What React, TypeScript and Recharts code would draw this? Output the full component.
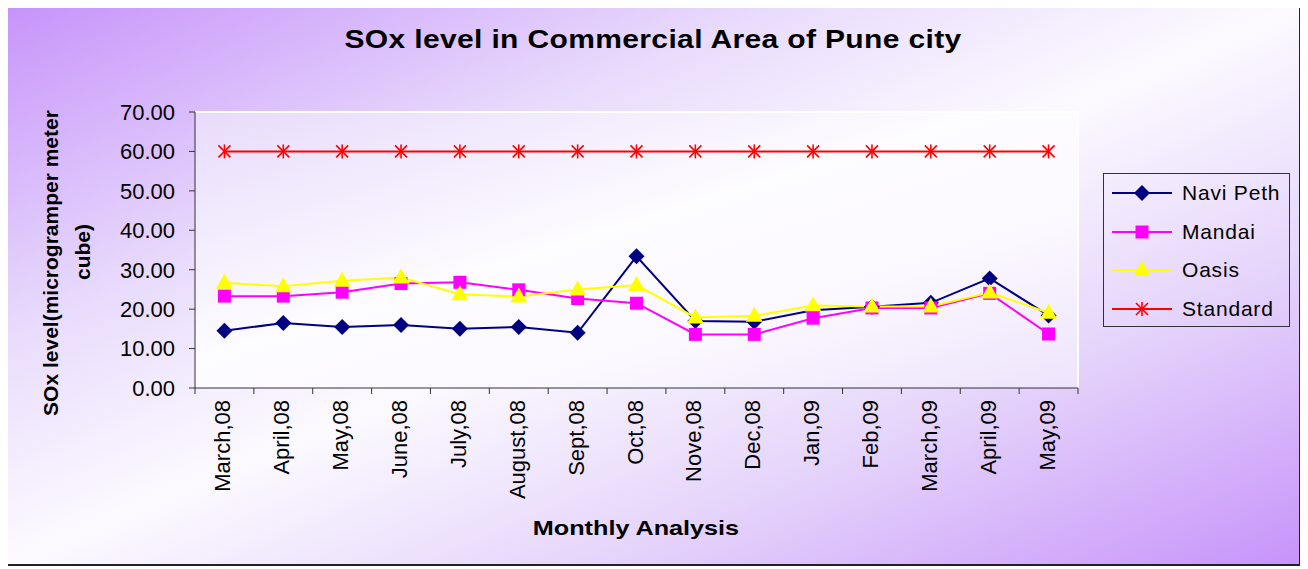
import { LineChart, Line, XAxis, YAxis, CartesianGrid, Legend } from 'recharts'

const months = ['March,08', 'April,08', 'May,08', 'June,08', 'July,08', 'August,08', 'Sept,08', 'Oct,08', 'Nove,08', 'Dec,08', 'Jan,09', 'Feb,09', 'March,09', 'April,09', 'May,09']
const naviPeth = [14.5, 16.5, 15.5, 16.0, 15.0, 15.5, 14.0, 33.4, 17.0, 16.8, 19.7, 20.6, 21.6, 27.8, 18.4]
const mandai = [23.3, 23.3, 24.3, 26.5, 26.8, 24.9, 22.7, 21.5, 13.6, 13.6, 17.7, 20.3, 20.3, 24.0, 13.7]
const oasis = [26.7, 25.8, 27.2, 28.0, 23.8, 23.2, 25.0, 26.1, 17.9, 18.3, 20.9, 20.7, 20.7, 24.2, 19.1]
const standard = [60, 60, 60, 60, 60, 60, 60, 60, 60, 60, 60, 60, 60, 60, 60]
const yTicks = [0, 10, 20, 30, 40, 50, 60, 70]

const data = months.map((month, i) => ({
  month,
  naviPeth: naviPeth[i],
  mandai: mandai[i],
  oasis: oasis[i],
  standard: standard[i],
}))

const series = [
  { key: 'naviPeth', name: 'Navi Peth', color: '#000080', kind: 'diamond' },
  { key: 'mandai', name: 'Mandai', color: '#FF00FF', kind: 'square' },
  { key: 'oasis', name: 'Oasis', color: '#FFFF00', kind: 'triangle' },
  { key: 'standard', name: 'Standard', color: '#FF0000', kind: 'star' },
]

const FONT = '"Liberation Sans", Arial, sans-serif'
const PLOT_W = 883
const HALF_BAND = PLOT_W / months.length / 2

function Marker({ kind, color, cx, cy }: { kind: string; color: string; cx: number; cy: number }) {
  if (kind === 'diamond')
    return <polygon points={`${cx},${cy - 8} ${cx + 8},${cy} ${cx},${cy + 8} ${cx - 8},${cy}`} fill={color} />
  if (kind === 'square') return <rect x={cx - 6.5} y={cy - 6.5} width={13} height={13} fill={color} />
  if (kind === 'triangle')
    return <polygon points={`${cx},${cy - 9} ${cx + 8.5},${cy + 6} ${cx - 8.5},${cy + 6}`} fill={color} />
  return (
    <g stroke={color} strokeWidth={1.6}>
      <line x1={cx} y1={cy - 7} x2={cx} y2={cy + 7} />
      <line x1={cx - 6} y1={cy - 6} x2={cx + 6} y2={cy + 6} />
      <line x1={cx - 6} y1={cy + 6} x2={cx + 6} y2={cy - 6} />
    </g>
  )
}

function MonthTick(props: any) {
  const { x, y, payload } = props
  const last = payload.index === months.length - 1
  return (
    <g>
      <line x1={x - HALF_BAND} y1={y} x2={x - HALF_BAND} y2={y + 6} stroke="#333" />
      {last && <line x1={x + HALF_BAND} y1={y} x2={x + HALF_BAND} y2={y + 6} stroke="#333" />}
      <text
        transform={`translate(${x + 6},${y + 12}) rotate(-90)`}
        textAnchor="end"
        fontSize={22}
        fontFamily={FONT}
        fill="#000"
      >
        {payload.value}
      </text>
    </g>
  )
}

function LegendBox() {
  return (
    <div style={{ position: 'relative', width: 187, height: 154, border: '1px solid #333', boxSizing: 'border-box', fontFamily: FONT }}>
      {series.map((s, i) => (
        <div
          key={s.key}
          style={{ position: 'absolute', left: 0, top: 19 + i * 38.5 - 14, height: 28, display: 'flex', alignItems: 'center' }}
        >
          <svg width={78} height={28}>
            <line x1={8} y1={14} x2={68} y2={14} stroke={s.color} strokeWidth={2} />
            <Marker kind={s.kind} color={s.color} cx={38} cy={14} />
          </svg>
          <span style={{ fontSize: 21, letterSpacing: 0.8, color: '#000', whiteSpace: 'nowrap' }}>{s.name}</span>
        </div>
      ))}
    </div>
  )
}

function RotLabel({ text, cx, cy }: { text: string; cx: number; cy: number }) {
  const w = 400
  const h = 32
  return (
    <div
      style={{
        position: 'absolute',
        left: cx - w / 2,
        top: cy - h / 2,
        width: w,
        height: h,
        lineHeight: `${h}px`,
        textAlign: 'center',
        transform: 'rotate(-90deg)',
        fontFamily: FONT,
        fontWeight: 'bold',
        fontSize: 21,
        color: '#000',
        whiteSpace: 'nowrap',
      }}
    >
      {text}
    </div>
  )
}

export default function App() {
  return (
    <div
      style={{
        position: 'relative',
        width: 1296,
        height: 561,
        margin: '-3px 0 0 -3px',
        border: '2px solid #222',
        boxSizing: 'border-box',
        background: 'linear-gradient(to bottom right, #c794fa 0%, #e9dcfc 30%, #fcfaff 50%, #e6d6fb 72%, #c794fa 100%)',
        overflow: 'hidden',
      }}
    >
      <div
        style={{
          position: 'absolute',
          top: 17,
          left: 0,
          width: '100%',
          textAlign: 'center',
          fontFamily: FONT,
          fontWeight: 'bold',
          fontSize: 25,
          lineHeight: '30px',
          color: '#000',
          transform: 'scaleX(1.2)',
          letterSpacing: 0.3,
        }}
      >
        SOx level in Commercial Area of Pune city
      </div>
      <RotLabel text="SOx level(microgramper meter" cx={44} cy={256} />
      <RotLabel text="cube)" cx={76} cy={245} />
      <div
        style={{
          position: 'absolute',
          top: 508,
          left: 429,
          width: 400,
          textAlign: 'center',
          fontFamily: FONT,
          fontWeight: 'bold',
          fontSize: 21,
          lineHeight: '26px',
          color: '#000',
          transform: 'scaleX(1.2)',
        }}
      >
        Monthly Analysis
      </div>
      <LineChart width={1292} height={557} data={data} margin={{ top: 105, right: 221, left: 0, bottom: 0 }}>
        <defs>
          <linearGradient id="plotBg" x1="0" y1="0" x2="1" y2="1">
            <stop offset="0%" stopColor="#e8dbfb" />
            <stop offset="45%" stopColor="#fdfcff" />
            <stop offset="70%" stopColor="#fbf8ff" />
            <stop offset="100%" stopColor="#eee3fc" />
          </linearGradient>
        </defs>
        <CartesianGrid
          fill="url(#plotBg)"
          stroke="#ffffff"
          strokeWidth={2}
          horizontalCoordinatesGenerator={({ offset }: any) => [offset.top]}
          verticalCoordinatesGenerator={({ offset }: any) => [offset.left + offset.width]}
        />
        <XAxis
          dataKey="month"
          interval={0}
          height={176}
          padding={{ left: HALF_BAND, right: HALF_BAND }}
          tickLine={false}
          tickSize={0}
          tickMargin={0}
          tick={<MonthTick />}
          axisLine={{ stroke: '#333' }}
        />
        <YAxis
          width={188}
          domain={[0, 70]}
          ticks={yTicks}
          interval={0}
          tickSize={6}
          tickMargin={14}
          tickFormatter={(v: number) => v.toFixed(2)}
          tick={{ fontSize: 22, fontFamily: FONT, fill: '#000' }}
          tickLine={{ stroke: '#333' }}
          axisLine={{ stroke: '#333' }}
        />
        <Legend
          layout="horizontal"
          align="center"
          verticalAlign="middle"
          content={<LegendBox />}
          wrapperStyle={{ position: 'absolute', left: 1096, top: 166, width: 187, height: 154 }}
        />
        {series.map((s) => (
          <Line
            key={s.key}
            dataKey={s.key}
            name={s.name}
            stroke={s.color}
            strokeWidth={2}
            isAnimationActive={false}
            dot={(p: any) => <Marker key={`${s.key}-${p.index}`} kind={s.kind} color={s.color} cx={p.cx} cy={p.cy} />}
            activeDot={false}
          />
        ))}
      </LineChart>
    </div>
  )
}
